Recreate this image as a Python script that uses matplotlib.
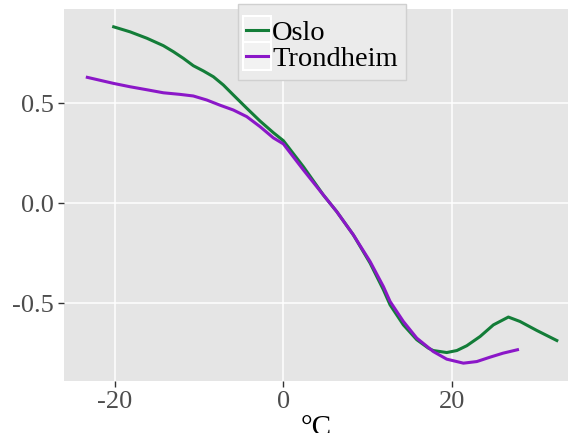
import matplotlib.pyplot as plt
from matplotlib.patches import Rectangle

# data (temperature in deg C vs. effect)
oslo_x = [-20.15, -18.2, -16.2, -14.25, -13.06, -11.88, -10.69, -9.5, -8.31, -7.13, -5.94, -4.35,
          -2.77, -1.19, 0.0, 2.38, 4.75, 6.34, 8.31, 10.3, 11.88, 12.67, 14.25, 15.84, 17.22, 17.8,
          19.4, 20.6, 21.78, 23.36, 24.94, 26.72, 28.1, 30.1, 32.47]
oslo_y = [0.880, 0.855, 0.823, 0.786, 0.756, 0.723, 0.686, 0.660, 0.631, 0.590, 0.540, 0.474,
          0.410, 0.352, 0.312, 0.182, 0.041, -0.042, -0.158, -0.299, -0.432, -0.507, -0.607, -0.681,
          -0.723, -0.735, -0.745, -0.735, -0.711, -0.665, -0.607, -0.568, -0.590, -0.635, -0.685]
trond_x = [-23.28, -20.19, -18.2, -16.2, -14.25, -12.27, -10.69, -9.1, -7.52, -5.94, -4.35, -2.77,
           -1.19, 0.0, 2.38, 4.75, 6.34, 8.31, 10.3, 11.88, 12.67, 14.25, 15.84, 17.22, 17.8, 19.4,
           21.38, 22.97, 24.55, 26.1, 27.8]
trond_y = [0.628, 0.598, 0.581, 0.566, 0.551, 0.543, 0.535, 0.515, 0.489, 0.465, 0.432, 0.382,
           0.326, 0.296, 0.166, 0.041, -0.042, -0.158, -0.291, -0.416, -0.490, -0.590, -0.673,
           -0.720, -0.740, -0.778, -0.798, -0.790, -0.768, -0.748, -0.731]
x_ticks = [-20, 0, 20]
y_ticks = [-0.5, 0.0, 0.5]
y_ticklabels = ["-0.5", "0.0", "0.5"]

clr = {"Oslo": "#137d38", "Trondheim": "#8b17c8"}

plt.rcParams['font.family'] = ['Liberation Serif', 'DejaVu Serif']

fig = plt.figure(figsize=(5.7, 4.33), dpi=100)
ax = fig.add_axes([64 / 570, 1 - 381 / 433, (568 - 64) / 570, (381 - 9) / 433])
ax.set_facecolor("#e5e5e5")
for s in ax.spines.values():
  s.set_visible(False)
ax.grid(True, color="white", linewidth=1.1)
ax.set_axisbelow(True)

ax.plot(oslo_x, oslo_y, color=clr["Oslo"], linewidth=2.2, label="Oslo", solid_joinstyle="round")
ax.plot(trond_x, trond_y, color=clr["Trondheim"], linewidth=2.2, label="Trondheim",
        solid_joinstyle="round")

ax.set_xlim(-26.05, 33.8)
ax.set_ylim(-0.887, 0.969)
ax.set_xticks(x_ticks)
ax.set_xticklabels([str(t) for t in x_ticks])
ax.set_yticks(y_ticks)
ax.set_yticklabels(y_ticklabels)
ax.tick_params(colors="#333333", labelcolor="#4d4d4d", labelsize=19, length=4, width=1)
ax.set_xlabel("°C", fontsize=21, labelpad=1)

leg = fig.legend(loc="upper center", bbox_to_anchor=(322 / 570, 1 - 4 / 433), fontsize=20.5,
                 frameon=True, fancybox=False, handlelength=0.75, handletextpad=0.15,
                 borderpad=0.28, labelspacing=0.0, borderaxespad=0,
                 title=" ", title_fontsize=6.5)
leg.get_frame().set_facecolor("#ebebeb")
leg.get_frame().set_edgecolor("#d0d0d0")
leg.get_frame().set_alpha(1)

# ggplot-like white key boxes behind legend handles
fig.canvas.draw()
W, H = fig.bbox.width, fig.bbox.height
for h in leg.legend_handles:
  bb = h.get_window_extent()
  cy = (bb.y0 + bb.y1) / 2
  x0, x1 = bb.x0 - 3.5, bb.x1 + 3.5
  sz = x1 - x0
  r = Rectangle((x0 / W, (cy - sz / 2) / H), sz / W, sz / H, transform=fig.transFigure,
                facecolor="#f2f2f2", edgecolor="white", linewidth=1.5, zorder=leg.get_zorder() + 0.5)
  fig.add_artist(r)
  h.set_zorder(leg.get_zorder() + 1)
  fig.add_artist(h)

fig.savefig("out.png", dpi=100)
